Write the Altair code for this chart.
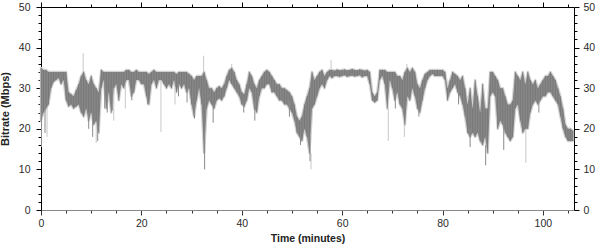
import altair as alt
import pandas as pd

# Dark band: low / high bitrate (Mbps) per half-minute, rows of 5 minutes
lo_rows = [
    [22, 24, 25, 26, 30, 31.5, 32, 32.5, 31, 32],
    [27, 25.5, 26, 25, 25.5, 26, 24, 23, 25, 22],
    [24, 21, 22, 19, 30, 32, 25, 29, 24, 30],
    [31, 27, 31, 30, 32, 32, 28, 29, 32, 32],
    [31, 31, 28, 26, 31, 32, 30, 32, 32, 31],
    [30, 31, 30, 32, 29, 31, 30, 31, 29, 30],
    [26, 23, 27, 30, 26, 14, 25, 27, 26, 25],
    [27, 27.5, 27, 28, 30, 32, 31, 30, 29, 28],
    [26, 25.5, 27, 30, 29, 25, 24, 28, 30, 30],
    [31, 31, 29, 29, 28, 27, 27, 26, 26, 25],
    [24, 22, 19, 18, 17, 20, 18, 14, 25, 26],
    [28, 30, 31, 30, 32, 33, 32.5, 33, 33, 32.8],
    [33, 33.2, 32.8, 33, 33.1, 32.9, 33, 33.2, 32.7, 33],
    [33, 31, 27, 26.5, 27, 32, 33, 31, 25, 32],
    [30, 27, 29, 26, 25, 21, 28, 27, 30, 28],
    [25, 24, 27, 30, 32, 33, 33.5, 33, 33, 33],
    [33, 32, 27, 29, 30, 31, 29, 28, 26, 23],
    [19, 18, 19, 18, 19, 17, 16, 18, 14, 28],
    [29, 28, 20, 22, 21, 19, 18, 17, 18, 25],
    [26, 22, 19, 20, 20, 24, 26, 27, 26, 27],
    [28, 28, 29, 29, 28, 27, 26, 23, 20, 18],
    [17, 17, 17],
]
hi_rows = [
    [35, 34.5, 34.5, 34, 34, 34, 34, 34, 34, 34],
    [34, 29, 28.5, 28, 29.5, 31, 33, 34, 32, 31],
    [33, 31, 30, 29, 34.5, 34, 34, 34, 34, 34],
    [34, 34, 34, 34, 34.5, 34.5, 34, 34, 34.5, 34],
    [34, 34, 34, 33.5, 34, 34.5, 34, 34, 34, 34],
    [34, 34, 34, 34, 33.5, 34, 34, 34, 34, 33.5],
    [33, 32, 33, 33, 33, 34, 32, 30, 30, 29],
    [30, 30.5, 30, 31, 33, 34.5, 35, 34, 32, 31],
    [29, 28.5, 31, 34, 33, 31, 30, 32, 33, 34],
    [34.5, 34, 33, 32, 31, 31, 30, 30, 29.5, 29],
    [28, 26, 23, 22, 23, 26, 28, 30, 34, 32],
    [33, 34, 34.5, 33, 34, 34.5, 34.5, 34.3, 34.6, 34.4],
    [34.5, 34.6, 34.4, 34.5, 34.7, 34.5, 34.4, 34.6, 34.5, 34.3],
    [34.5, 34, 29, 28, 29, 34.5, 34.5, 34.5, 34, 34],
    [34, 34, 33, 33, 32, 34, 35, 34, 35, 34],
    [31, 30, 32, 33.5, 34, 34.5, 34.5, 34.5, 34.5, 34.5],
    [34.5, 34, 30, 32, 34, 33.5, 33, 32, 33, 30],
    [26, 30, 25, 32, 28, 24, 31, 25, 25, 34],
    [34, 33, 32, 30, 30, 28, 26, 26, 27, 34],
    [33, 32, 34, 31, 34, 32, 31, 32, 30, 31],
    [32, 33, 33, 34, 33, 32, 30, 28, 25, 21],
    [20, 20, 19.5],
]
band_lo = [v for r in lo_rows for v in r]
band_hi = [v for r in hi_rows for v in r]
band_t = [i * 0.5 for i in range(len(band_lo))]

# Thin dark dips
dip_t = [0.1, 0.8, 9.5, 10.3, 11.3, 13.2, 14.2, 21.2, 30.6, 32.6, 34.3, 40.4,
         42.6, 49.5, 51.7, 53.6, 85.5, 88.6, 92.2,
         12.7, 18.1, 27.4, 29.1, 70.6, 72.2, 75.3, 83.2, 99.2]
dip_lo = [15.5, 19, 20, 18, 17, 24, 24.5, 26, 22.5, 10, 21.5, 24,
          22, 23, 16, 12, 15.5, 11, 14.8,
          25, 27, 28, 26.5, 25, 24, 23, 26, 24]
dip_hi = [24, 26, 24, 24, 22, 30, 30, 30, 26, 20, 26, 27,
          27, 27, 20, 18, 20, 16, 22,
          32, 30, 31, 30, 29, 27, 26, 30, 27]

# Thin light-grey spikes
spk_t = [1.2, 8.4, 11.0, 23.9, 32.4, 38.0, 53.8, 57.8, 69.2, 72.4, 72.9, 96.6,
         14.5, 16.8, 26.7]
spk_lo = [18, 30, 16.5, 19.2, 34, 34, 10, 34, 17, 18, 34, 11.6, 22, 25, 26]
spk_hi = [26, 38.6, 22, 32, 38, 36, 14, 37, 25, 21, 36, 20, 30, 31, 30]

band = pd.DataFrame({"t": band_t, "lo": band_lo, "hi": band_hi})
dips = pd.DataFrame({"t": dip_t, "lo": dip_lo, "hi": dip_hi})
spikes = pd.DataFrame({"t": spk_t, "lo": spk_lo, "hi": spk_hi})

xs = alt.Scale(domain=[0, 106.2], nice=False, zero=False)
ys = alt.Scale(domain=[0, 50], nice=False)

LBL = "Liberation Sans"
x_ticks = list(range(0, 106, 5))
y_ticks = list(range(0, 51, 2))
x_tsize = {"condition": {"test": "datum.value % 20 === 0", "value": 5}, "value": 3}
y_tsize = {"condition": {"test": "datum.value % 10 === 0", "value": 5}, "value": 3}

x_bottom = alt.Axis(
    orient="bottom", title="Time (minutes)", values=x_ticks,
    labelExpr="datum.value % 20 === 0 ? datum.label : ''",
    tickSize=x_tsize, domainColor="#888888", tickColor="#333333",
    labelFont=LBL, labelFontSize=10.5, labelColor="#2a2a2a", labelPadding=3,
    labelOverlap=False, labelFlush=False, grid=False,
    titleFont=LBL, titleFontSize=10.5, titleFontWeight="bold",
    titleColor="#222222", titlePadding=5,
)
y_left = alt.Axis(
    orient="left", title="Bitrate (Mbps)", values=y_ticks,
    labelExpr="datum.value % 10 === 0 ? datum.label : ''",
    tickSize=y_tsize, domainColor="#000000", tickColor="#000000",
    labelFont=LBL, labelFontSize=10.5, labelColor="#2a2a2a", labelPadding=6,
    labelOverlap=False, labelFlush=False, grid=False,
    titleFont=LBL, titleFontSize=11, titleFontWeight="bold",
    titleColor="#222222", titlePadding=8,
)
x_top = alt.Axis(
    orient="top", title=None, values=x_ticks, labels=False,
    tickSize=x_tsize, domainColor="#000000", tickColor="#000000", grid=False,
)
y_right = alt.Axis(
    orient="right", title=None, values=y_ticks,
    labelExpr="datum.value % 10 === 0 ? datum.label : ''",
    tickSize=y_tsize, domainColor="#000000", tickColor="#000000",
    labelFont=LBL, labelFontSize=10.5, labelColor="#2a2a2a", labelPadding=4,
    labelOverlap=False, labelFlush=False, grid=False,
)

halo = alt.Chart(band).mark_area(
    color="#d2d2d2", stroke="#d2d2d2", strokeWidth=2.4, strokeJoin="round"
).encode(
    x=alt.X("t:Q", scale=xs, axis=x_bottom),
    y=alt.Y("lo:Q", scale=ys, axis=y_left),
    y2="hi:Q",
)
light = alt.Chart(spikes).mark_rule(color="#c8c8c8", strokeWidth=1).encode(
    x=alt.X("t:Q", scale=xs, axis=None),
    y=alt.Y("lo:Q", scale=ys, axis=None),
    y2="hi:Q",
)
dark = alt.Chart(band).mark_area(color="#878787").encode(
    x=alt.X("t:Q", scale=xs, axis=x_top),
    y=alt.Y("lo:Q", scale=ys, axis=y_right),
    y2="hi:Q",
)
streak = alt.Chart(band).mark_rule(color="#737373", strokeWidth=0.7).encode(
    x=alt.X("t:Q", scale=xs, axis=None),
    y=alt.Y("lo:Q", scale=ys, axis=None),
    y2="hi:Q",
)
dip = alt.Chart(dips).mark_rule(color="#8a8a8a", strokeWidth=1).encode(
    x=alt.X("t:Q", scale=xs, axis=None),
    y=alt.Y("lo:Q", scale=ys, axis=None),
    y2="hi:Q",
)

chart = (
    alt.layer(halo, light, dark, streak, dip)
    .resolve_axis(x="independent", y="independent")
    .properties(
        width=533, height=203,
        autosize=alt.AutoSizeParams(type="none"),
        padding={"left": 41, "top": 7, "right": 26, "bottom": 37},
        background="#ffffff",
    )
    .configure_view(stroke=None)
)

chart.save("out.html", embed_options={"renderer": "svg", "actions": False})
